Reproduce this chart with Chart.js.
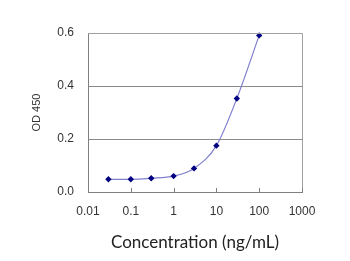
<!DOCTYPE html>
<html>
<head>
<meta charset="utf-8">
<script src="https://cdn.jsdelivr.net/npm/chart.js@4"></script>
<style>
  html, body { margin: 0; padding: 0; background: #fff; }
  .chart-container { width: 350px; height: 261px; }
</style>
</head>
<body>
<div class="chart-container">
  <canvas id="myChart"></canvas>
</div>
<script>
// concentration (ng/mL) and OD 450
const concentrations = [0.03, 0.1, 0.3, 1, 3, 10, 30, 100];
const odValues = [0.048, 0.048, 0.052, 0.060, 0.089, 0.175, 0.353, 0.591];
const xTickValues = [0.01, 0.1, 1, 10, 100, 1000];
const xTickLabels = ['0.01', '0.1', '1', '10', '100', '1000'];

// frame on top/right and small inward ticks on the x axis
const frame = {
    id: 'frame',
    afterDraw(chart) {
        const { ctx, chartArea: a, scales } = chart;
        ctx.save();
        ctx.strokeStyle = '#a0a0a0';
        ctx.lineWidth = 1;
        ctx.beginPath();
        ctx.moveTo(a.left, a.top + 0.5);
        ctx.lineTo(a.right + 0.5, a.top + 0.5);
        ctx.lineTo(a.right + 0.5, a.bottom);
        ctx.stroke();
        ctx.strokeStyle = '#808080';
        ctx.beginPath();
        xTickValues.forEach(v => {
            const x = Math.round(scales.x.getPixelForValue(v)) + 0.5;
            ctx.moveTo(x, a.bottom);
            ctx.lineTo(x, a.bottom - 4);
        });
        ctx.stroke();
        ctx.restore();
    }
};

const ctx = document.getElementById('myChart').getContext('2d');
new Chart(ctx, {
    type: 'line',
    data: {
        datasets: [{
            data: concentrations.map((c, i) => ({ x: c, y: odValues[i] })),
            borderColor: '#7f7fcf',
            borderWidth: 1.2,
            cubicInterpolationMode: 'monotone',
            pointStyle: 'rectRot',
            pointRadius: 3.2,
            pointBackgroundColor: '#000080',
            pointBorderColor: '#000080',
            pointBorderWidth: 0,
            clip: false
        }]
    },
    options: {
        responsive: true,
        maintainAspectRatio: false,
        animation: false,
        layout: { padding: { top: 33, right: 48, left: 0, bottom: 0 } },
        plugins: {
            legend: { display: false },
            tooltip: { enabled: false }
        },
        scales: {
            x: {
                type: 'logarithmic',
                min: 0.01,
                max: 1000,
                afterBuildTicks: scale => {
                    scale.ticks = xTickValues.map(v => ({ value: v }));
                },
                afterFit: scale => { scale.height = 69; },
                grid: { drawOnChartArea: false, drawTicks: false },
                border: { color: '#808080', width: 1 },
                ticks: {
                    autoSkip: false,
                    maxRotation: 0,
                    padding: 12,
                    color: '#333',
                    font: { family: 'Liberation Sans', size: 12 },
                    callback: (value, i) => xTickLabels[i]
                },
                title: {
                    display: true,
                    text: 'Concentration (ng/mL)',
                    color: '#222',
                    font: { family: 'Lato', size: 17 },
                    padding: { top: 0, bottom: 8 }
                }
            },
            y: {
                min: 0,
                max: 0.6,
                afterFit: scale => { scale.width = 88; },
                grid: { color: '#8a8a8a', drawTicks: false },
                border: { color: '#808080', width: 1 },
                ticks: {
                    stepSize: 0.2,
                    padding: 14,
                    color: '#333',
                    font: { family: 'Liberation Sans', size: 12 },
                    callback: value => value.toFixed(1)
                },
                title: {
                    display: true,
                    text: 'OD 450',
                    color: '#333',
                    font: { family: 'Liberation Sans', size: 11 },
                    padding: { top: 30, bottom: 0 }
                }
            }
        }
    },
    plugins: [frame]
});
</script>
</body>
</html>
